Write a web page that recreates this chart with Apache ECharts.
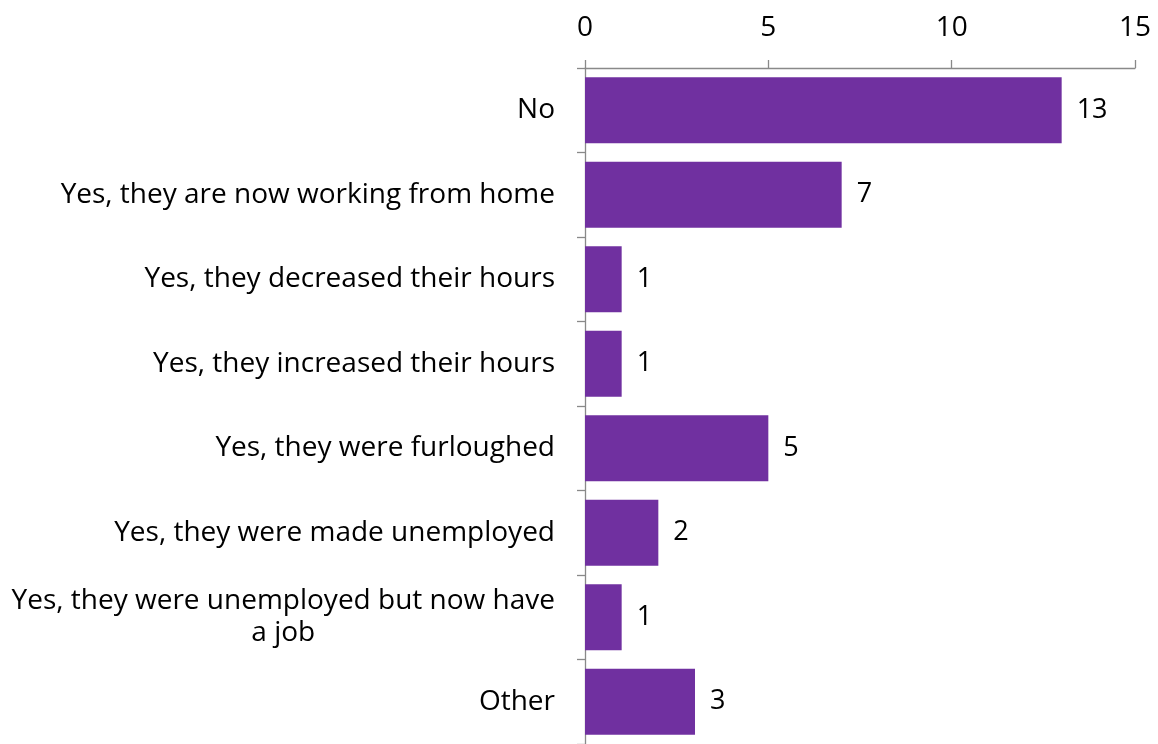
<!DOCTYPE html>
<html>
<head>
<meta charset="utf-8">
<script src="https://cdn.jsdelivr.net/npm/echarts@6/dist/echarts.min.js"></script>
<style>html,body{margin:0;padding:0;background:#fff;}#c{width:1158px;height:744px;}</style>
</head>
<body>
<div id="c"></div>
<script>
const categories = [
  "No",
  "Yes, they are now working from home",
  "Yes, they decreased their hours",
  "Yes, they increased their hours",
  "Yes, they were furloughed",
  "Yes, they were made unemployed",
  "Yes, they were unemployed but now have\na job",
  "Other"
];
const values = [13, 7, 1, 1, 5, 2, 1, 3];
const xTicks = { min: 0, max: 15, interval: 5 };

const FONT = "Open Sans";
const FS = 28;
const chart = echarts.init(document.getElementById('c'), null, { renderer: 'canvas' });
chart.setOption({
  animation: false,
  textStyle: { fontFamily: FONT },
  grid: { left: 585, right: 23, top: 68, bottom: -4, containLabel: false },
  xAxis: {
    type: 'value', position: 'top',
    min: xTicks.min, max: xTicks.max, interval: xTicks.interval,
    axisLine: { show: true, lineStyle: { color: '#898989', width: 1.3 } },
    axisTick: { show: true, length: 8, lineStyle: { color: '#898989', width: 1.3 } },
    axisLabel: { color: '#000', fontSize: FS, fontFamily: FONT, margin: 26 },
    splitLine: { show: false }
  },
  yAxis: {
    type: 'category', inverse: true, data: categories,
    axisLine: { show: true, lineStyle: { color: '#898989', width: 1.3 } },
    axisTick: { show: true, length: 8, lineStyle: { color: '#898989', width: 1.3 } },
    axisLabel: {
      color: '#000', fontSize: FS, fontFamily: FONT, margin: 30, lineHeight: 32,
      formatter: v => v.split('\n').map(l => '{c|' + l + '}').join('\n'),
      rich: { c: { align: 'center', fontSize: FS, fontFamily: FONT, lineHeight: 32, color: '#000' } }
    }
  },
  series: [{
    type: 'bar', data: values, barCategoryGap: '22%',
    itemStyle: { color: '#7030A0' },
    label: { show: true, position: 'right', distance: 15, color: '#000', fontSize: FS - 1, fontFamily: FONT }
  }]
});
</script>
</body>
</html>
